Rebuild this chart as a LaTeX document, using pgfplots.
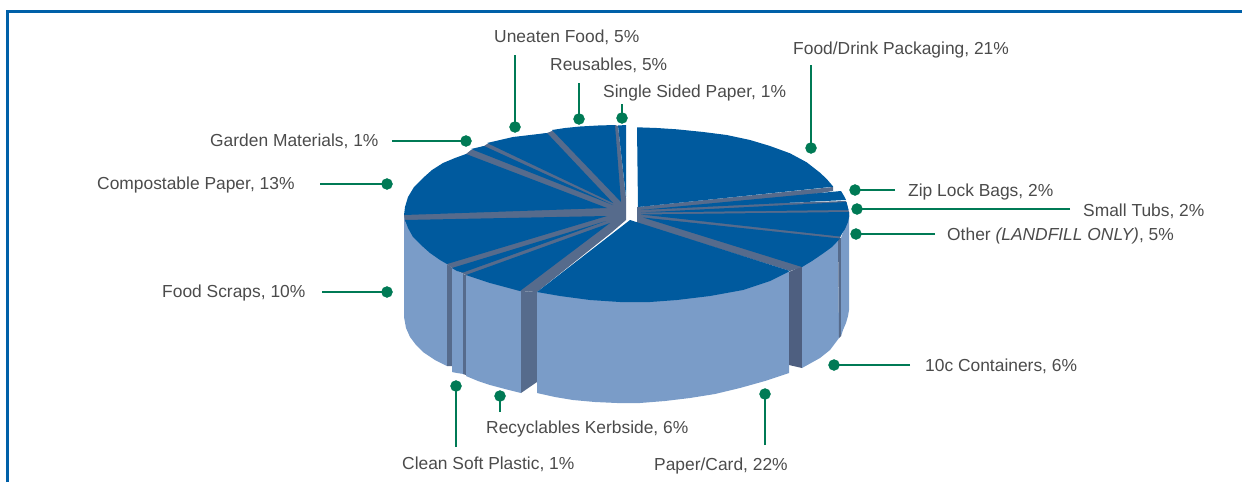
\documentclass[border=0pt]{standalone}
\usepackage{pgfplots}
\pgfplotsset{compat=1.18}
\usepackage{fontspec}
\setmainfont{Liberation Sans}
\definecolor{topc}{RGB}{0,90,158}
\definecolor{wall}{RGB}{122,156,200}
\definecolor{slate}{RGB}{86,107,140}
\definecolor{slated}{RGB}{78,95,128}
\definecolor{grn}{RGB}{0,122,85}
\definecolor{frame}{RGB}{0,96,168}
\definecolor{txt}{RGB}{75,75,75}
\newcommand\poly[2]{\addplot[fill=#1,draw=none] coordinates {#2} -- cycle;}
\newcommand\lead[3]{\addplot[grn,line width=2.8pt] coordinates {#1 #2};\addplot[only marks,mark=*,mark size=5.5pt,grn,mark options={draw=none,fill=grn}] coordinates {#2};\relax}
\newcommand\lab[3]{\node[anchor=west,inner sep=0pt,text=txt,font=\fontsize{17.4}{19}\selectfont] at (axis cs:#1,#2+1.3) {#3};}
\begin{document}
\begin{tikzpicture}
\path[use as bounding box] (0,0) rectangle (1242pt,482pt);
\begin{axis}[width=1242pt,height=482pt,scale only axis,hide axis,xmin=0,xmax=1242,ymin=0,ymax=482,y dir=reverse,clip=true,anchor=south west,at={(0,0)}]
% frame
\addplot[frame,line width=3pt] coordinates {(7,482) (7,11.5) (1242,11.5)};
% side walls
\poly{wall}{(404,215)(404,317)(406,328)(410,337)(416,345)(423,352)(435,360)(447,366)(447,264)}
\poly{slate}{(447,264)(452,268)(452,366)(447,366)}
\poly{wall}{(452,268)(463.5,274)(463.5,374)(457,373)(452,372)}
\poly{slate}{(463,274)(466,275)(466,375)(463,374)}
\poly{wall}{(466,275)(521,291)(521,393)(505,389)(490,385)(478,381)(466,376)}
\poly{slate}{(521,291)(537,292)(537,382)(521,393)}
\poly{wall}{(537,292)(789,272)(789,373)(765,381)(740,388)(715,394)(690,398)(665,401)(640,403)(617,403)(595,402)(573,400)(555,397)(537,393)}
\poly{slated}{(789,272)(802,266)(802,368)(789,365)}
\poly{wall}{(802,266)(838,240)(839,338)(830,350)(820,358)(811,363)(802,368)}
\poly{slate}{(838,238)(841,238)(841,336)(839,338)}
\poly{wall}{(841,238)(849,215)(849,310)(848,316)(846,323)(843,330)(841,336)}
% slate base under the top faces, seen only in the gaps
\poly{slate}{(626,198)(626,220)(612,232)(537,292)(520,291)(466,275)(452,268)(447,264)(405,221)(404,215)(466,154)(471,150)(484,146)(487,144)(547,133)(552,131)(615,125)(618,126)}
\poly{slate}{(637,207)(833,187)(833,191)(637,223)}
\poly{slate}{(637,207)(642,207)(846,201)(849,212)(849,217)(840,238)(802,267)(790,271)(637,223)}
% top faces
\poly{topc}{(637,127.3)(656.7,128)(676.7,129.3)(703.3,132)(726.7,135)(750,140)(770,146)(790,153.3)(806.7,162.3)(820,172.7)(826.7,179)(833.3,186.7)(638,207)}
\poly{topc}{(641,210)(841,191)(844,196)(846,200)}
\poly{topc}{(641,212.5)(846.5,202)(848.5,210)}
\poly{topc}{(641,214.5)(849,212)(849,217)(848,222)(845,229)(840,236.5)}
\poly{topc}{(643,217.5)(840,238.5)(832,247)(823,253.5)(812,261)(802,267)}
\poly{topc}{(630,220)(790,271)(770,281)(743,290)(710,296)(677,300)(650,302)(620,302)(590,300)(560,296)(537,292)}
\poly{topc}{(610,223)(520,291)(505,287)(490,283)(478,279)(466,275)}
\poly{topc}{(606,221)(463,272.5)(457,271)(452,268)}
\poly{topc}{(607,216)(447,264)(440,260)(430,253)(421,245)(413,237)(408,228)(405,220)}
\poly{topc}{(607,208)(466,154)(455,158)(443,163)(432,170)(423,178)(414,187)(408,197)(405,207)(404,215)}
\poly{topc}{(613,205)(471,149)(484,146)}
\poly{topc}{(613,203)(487,143)(500,140)(513,137)(530,135)(547,133)}
\poly{topc}{(621,202)(552,130)(565,128)(580,126.5)(598,125.5)(615,125)}
\poly{topc}{(626,197)(618,125.5)(626,125)}
% leader lines
\lead{(515,55)}{(515,127)}{}
\lead{(579,83)}{(579,119)}{}
\lead{(622,104)}{(622,118)}{}
\lead{(811,65)}{(811,148)}{}
\lead{(392,141)}{(466,141)}{}
\lead{(320,184)}{(387,184)}{}
\lead{(322,292)}{(387,292)}{}
\lead{(895,190)}{(855,190)}{}
\lead{(1070,209)}{(857,209)}{}
\lead{(935,234)}{(856,234)}{}
\lead{(910,365)}{(834,365)}{}
\lead{(765,445)}{(765,394)}{}
\lead{(500,412)}{(500,396)}{}
\lead{(456,447)}{(456,386)}{}
% labels
\lab{494}{36}{Uneaten Food, 5\%}
\lab{550}{64}{Reusables, 5\%}
\lab{603}{92}{Single Sided Paper, 1\%}
\lab{793}{49}{Food/Drink Packaging, 21\%}
\lab{210}{140}{Garden Materials, 1\%}
\lab{97}{184}{Compostable Paper, 13\%}
\lab{162}{292}{Food Scraps, 10\%}
\lab{908}{191}{Zip Lock Bags, 2\%}
\lab{1083}{210}{Small Tubs, 2\%}
\lab{947}{235}{Other \textit{(LANDFILL ONLY)}, 5\%}
\lab{925}{365}{10c Containers, 6\%}
\lab{486}{428}{Recyclables Kerbside, 6\%}
\lab{402}{463}{Clean Soft Plastic, 1\%}
\lab{654}{465}{Paper/Card, 22\%}
\end{axis}
\end{tikzpicture}
\end{document}
